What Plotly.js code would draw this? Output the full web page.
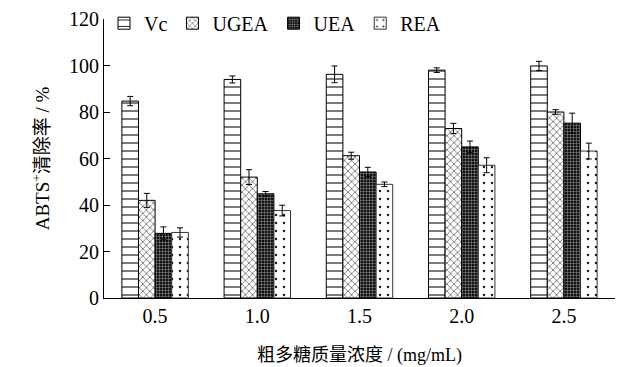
<!DOCTYPE html>
<html>
<head>
<meta charset="utf-8">
<script src="https://cdn.plot.ly/plotly-3.0.1.min.js"></script>
<style>html,body{margin:0;padding:0;background:#fff;}#chart{width:619px;height:367px;}</style>
</head>
<body>
<div id="chart"></div>
<script>
const categories = ['0.5', '1.0', '1.5', '2.0', '2.5'];
const seriesNames = ['Vc', 'UGEA', 'UEA', 'REA'];
const vcValues   = [84.7, 94.0, 96.2, 98.0, 99.8];
const vcErrors   = [2.0, 1.5, 3.6, 1.0, 2.0];
const ugeaValues = [42.0, 52.0, 61.2, 72.9, 80.0];
const ugeaErrors = [3.0, 3.2, 1.5, 2.2, 1.0];
const ueaValues  = [27.8, 44.8, 54.2, 65.0, 75.2];
const ueaErrors  = [2.8, 1.0, 2.0, 2.5, 4.3];
const reaValues  = [28.2, 37.6, 48.9, 57.1, 63.2];
const reaErrors  = [2.0, 2.3, 1.0, 3.2, 3.4];

const serif = "'Liberation Serif', 'Times New Roman', 'Noto Sans CJK SC', serif";

const styles = [
  {bg: '#ffffff', fg: '#000000', shape: '-', size: 8, solidity: 0.13, line: '#000'},
  {bg: '#ffffff', fg: '#333333', shape: 'x', size: 5, solidity: 0.22, line: '#000'},
  {bg: '#111111', fg: '#9a9a9a', shape: '+', size: 3, solidity: 0.3, line: '#000'},
  {bg: '#ffffff', fg: '#222222', shape: '.', size: 8, solidity: 0.08, line: '#333'}
];
const values = [vcValues, ugeaValues, ueaValues, reaValues];
const errors = [vcErrors, ugeaErrors, ueaErrors, reaErrors];

const traces = seriesNames.map((name, i) => ({
  type: 'bar',
  name: name,
  x: categories,
  y: values[i],
  error_y: {type: 'data', array: errors[i], visible: true, color: '#000', thickness: 1, width: 3},
  marker: {
    color: styles[i].bg,
    line: {color: styles[i].line, width: 1},
    pattern: {shape: styles[i].shape, bgcolor: styles[i].bg, fgcolor: styles[i].fg,
              size: styles[i].size, solidity: styles[i].solidity, fillmode: 'replace'}
  }
}));

const layout = {
  width: 619, height: 367,
  margin: {l: 104, r: 4, t: 19, b: 69},
  paper_bgcolor: '#fff', plot_bgcolor: '#fff',
  font: {family: serif, size: 20, color: '#000'},
  barmode: 'group',
  bargap: 0.35,
  bargroupgap: 0,
  showlegend: true,
  legend: {orientation: 'h', x: 0.0, xanchor: 'left', y: 0.985, yanchor: 'middle',
           font: {family: serif, size: 20}, bgcolor: 'rgba(0,0,0,0)', itemwidth: 30,
           tracegroupgap: 0},
  xaxis: {
    type: 'category', showline: true, linecolor: '#000', linewidth: 1,
    ticks: '', showgrid: false, zeroline: false,
    tickfont: {family: serif, size: 20},
    title: {text: '粗多糖质量浓度 / (mg/mL)', font: {family: serif, size: 18}, standoff: 22}
  },
  yaxis: {
    range: [0, 120], dtick: 20, showline: true, linecolor: '#000', linewidth: 1,
    ticks: 'inside', ticklen: 6, tickcolor: '#000', showgrid: false, zeroline: false,
    tickfont: {family: serif, size: 20},
    title: {text: 'ABTS<sup>+</sup>清除率 / %', font: {family: serif, size: 19}, standoff: 14}
  }
};

Plotly.newPlot('chart', traces, layout, {displayModeBar: false, staticPlot: true});
</script>
</body>
</html>
